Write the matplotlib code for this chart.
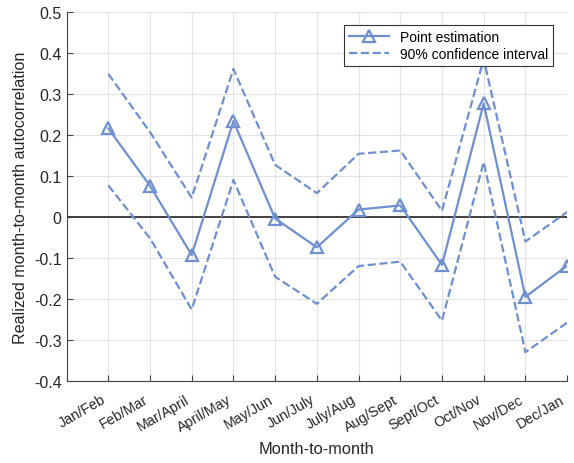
import numpy as np
import matplotlib.pyplot as plt
import matplotlib.transforms as mtrans

plt.rcParams['font.family'] = ['Liberation Sans', 'DejaVu Sans']

pairs = ['Jan/Feb', 'Feb/Mar', 'Mar/April', 'April/May', 'May/Jun', 'Jun/July',
         'July/Aug', 'Aug/Sept', 'Sept/Oct', 'Oct/Nov', 'Nov/Dec', 'Dec/Jan']
point_est = [0.216, 0.076, -0.093, 0.234, -0.004, -0.074,
             0.018, 0.028, -0.117, 0.277, -0.195, -0.119]
upper_ci = [0.349, 0.207, 0.047, 0.361, 0.127, 0.058,
            0.154, 0.162, 0.015, 0.385, -0.060, 0.012]
lower_ci = [0.077, -0.052, -0.226, 0.090, -0.146, -0.212,
            -0.120, -0.109, -0.253, 0.134, -0.330, -0.258]
yticks = [-0.4, -0.3, -0.2, -0.1, 0, 0.1, 0.2, 0.3, 0.4, 0.5]

col = '#6f90cf'
x = np.arange(1, len(pairs) + 1)

fig = plt.figure(figsize=(5.74, 4.64), dpi=100)
ax = fig.add_axes([0.116, 0.177, 0.872, 0.795])

ax.axhline(0, color='#333333', lw=1.3, zorder=2)
ax.plot(x, point_est, '-^', color=col, lw=1.6, ms=8, mfc='none', mew=1.6,
        label='Point estimation', zorder=3)
ax.plot(x, upper_ci, '--', color=col, lw=1.6, label='90% confidence interval', zorder=3)
ax.plot(x, lower_ci, '--', color=col, lw=1.6, zorder=3)

ax.set_xlim(0, 12)
ax.set_ylim(-0.4, 0.5)
ax.set_xticks(np.arange(0, 13))
ax.set_xticklabels([''] + pairs, rotation=30, ha='right', fontsize=10.3)
# nudge the rotated labels a little to the right, like the original
shift = mtrans.ScaledTranslation(8 / 100, 0, fig.dpi_scale_trans)
for lab in ax.get_xticklabels():
    lab.set_transform(lab.get_transform() + shift)
ax.set_yticks(yticks)
ax.set_yticklabels(['%g' % v for v in yticks], fontsize=11.5)
ax.grid(True, color='#e3e3e3', lw=0.8)
ax.set_axisbelow(True)
ax.tick_params(direction='in', length=4, color='#444444', labelcolor='#262626')
ax.tick_params(axis='x', pad=8)
for s in ax.spines.values():
    s.set_color('#444444')
    s.set_linewidth(0.8)
ax.spines['top'].set_visible(False)
ax.spines['right'].set_visible(False)

ax.set_xlabel('Month-to-month', fontsize=11.8, color='#262626', labelpad=5)
ax.set_ylabel('Realized month-to-month autocorrelation', fontsize=11.6, color='#262626')

leg = ax.legend(loc='upper right', bbox_to_anchor=(0.972, 0.965), borderaxespad=0,
                fontsize=10, fancybox=False, edgecolor='#333333', framealpha=1,
                handlelength=2.9, borderpad=0.35, labelspacing=0.25)
leg.get_frame().set_linewidth(0.8)

fig.savefig('out.png', dpi=100)
